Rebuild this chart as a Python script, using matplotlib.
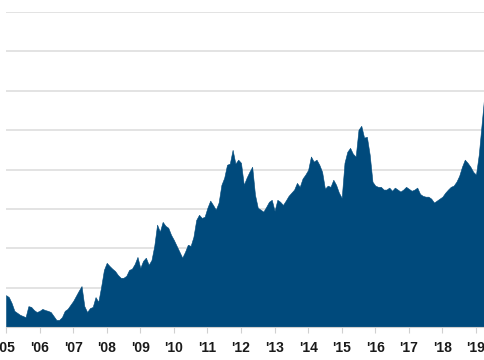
import matplotlib
matplotlib.use("Agg")
import matplotlib.pyplot as plt
import numpy as np

# Monthly values, Jan 2005 .. Apr 2019 (gridline spacing = 10 units)
start_year = 2005
values = [
    8.1, 7.6, 6.1, 4.1, 3.6, 3.1, 2.8, 2.5, 5.3, 5.1, 4.3, 3.8,      # 2005
    4.1, 4.6, 4.3, 4.1, 3.8, 2.8, 1.8, 1.8, 2.5, 4.1, 4.6, 5.6,      # 2006
    6.6, 7.9, 9.2, 10.4, 5.3, 3.8, 4.8, 5.1, 7.6, 6.4, 10.2, 14.5,   # 2007
    16.3, 15.5, 14.8, 14.2, 13.2, 12.5, 12.5, 13.0, 14.5, 14.8, 16.0, 17.8,  # 2008
    15.0, 16.8, 17.6, 15.8, 17.0, 20.6, 26.0, 24.2, 26.7, 25.7, 25.2, 23.4,  # 2009
    22.1, 20.6, 19.1, 17.6, 19.1, 20.9, 20.6, 22.9, 27.2, 28.5, 27.7, 28.0,  # 2010
    30.3, 32.1, 31.0, 29.8, 31.6, 36.1, 37.9, 41.2, 41.5, 45.0, 41.5, 42.5,  # 2011
    41.7, 36.1, 37.9, 39.4, 40.7, 33.6, 30.3, 29.8, 29.3, 30.5, 31.8, 32.3,  # 2012
    29.5, 32.3, 31.8, 31.0, 32.1, 33.3, 34.1, 34.9, 36.6, 35.6, 37.7, 38.7,  # 2013
    39.9, 43.3, 42.0, 42.5, 41.2, 39.4, 35.1, 35.9, 35.6, 37.4, 36.1, 34.1,  # 2014
    32.8, 41.7, 44.5, 45.5, 44.0, 43.3, 50.1, 51.1, 48.1, 48.3, 43.8, 36.9,  # 2015
    35.9, 35.6, 35.6, 34.9, 34.9, 35.4, 34.6, 35.4, 34.9, 34.4, 34.9, 35.6,  # 2016
    35.1, 34.6, 34.9, 35.4, 33.8, 33.3, 33.1, 33.1, 32.6, 31.6, 32.1, 32.6,  # 2017
    33.1, 34.1, 34.9, 35.6, 35.9, 36.9, 38.4, 40.7, 42.5, 41.7, 40.7, 39.4,  # 2018
    38.7, 43.8, 51.4, 59.0,                                              # 2019
]
years = list(range(2005, 2020))
tick_labels = ["'%02d" % (y % 100) for y in years]

fill_color = "#004a7c"
grid_color = "#e3e3e3"
text_color = "#1a1a1a"

x = start_year + np.arange(len(values)) / 12.0

fig = plt.figure(figsize=(4.85, 3.6), dpi=100)
ax = fig.add_axes([6 / 485, 33 / 360, 479 / 485, 315 / 360])

ax.fill_between(x, 0, values, color=fill_color, linewidth=0.4, edgecolor=fill_color, zorder=2)

ax.set_xlim(2005, 2005 + 479 / 33.57)
ax.set_ylim(0, 80)
ax.set_yticks(np.arange(0, 81, 10))
ax.yaxis.grid(True, color=grid_color, linewidth=1.4, zorder=0)
ax.set_axisbelow(True)
ax.tick_params(axis="y", left=False, labelleft=False)

ax.set_xticks(years)
ax.set_xticklabels(tick_labels, fontsize=10, fontweight="bold", color=text_color,
                   family=["Liberation Sans", "DejaVu Sans"])
ax.tick_params(axis="x", length=4, width=0.8, color="#d0d0d0", pad=6)

for s in ["top", "right", "left"]:
    ax.spines[s].set_visible(False)
ax.spines["bottom"].set_color("#d0d0d0")
ax.spines["bottom"].set_linewidth(0.8)

fig.savefig("out.png", dpi=100)
